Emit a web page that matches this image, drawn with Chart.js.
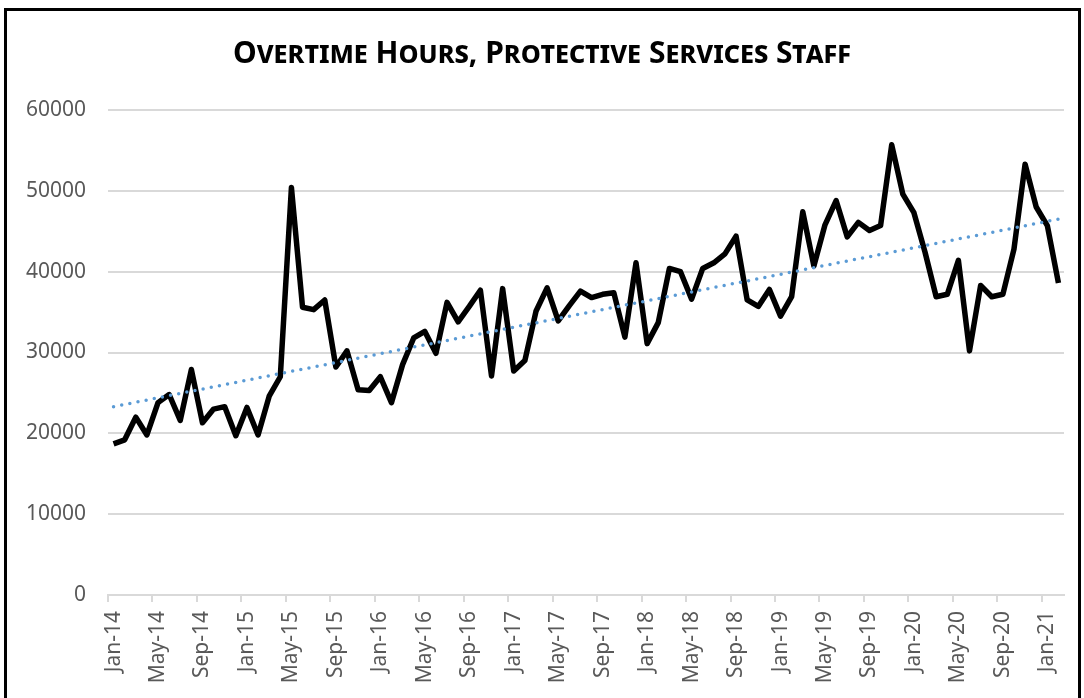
<!DOCTYPE html>
<html>
<head>
<meta charset="utf-8">
<title>Overtime Hours, Protective Services Staff</title>
<script src="https://cdn.jsdelivr.net/npm/chart.js@4.4.1/dist/chart.umd.min.js"></script>
<style>
    html, body { margin: 0; padding: 0; background: #fff; }
    #wrap { position: relative; width: 1084px; height: 698px; overflow: hidden; }
    #frame { position: absolute; left: 4px; top: 8px; width: 1071px; height: 720px; border: 3px solid #000; pointer-events: none; }
    #overtimeChart { position: absolute; left: 0; top: 0; }
</style>
</head>
<body>
<div id="wrap">
    <canvas id="overtimeChart" width="1084" height="698"></canvas>
    <div id="frame"></div>
</div>
<script>
// Month categories, Jan-14 .. Feb-21
const monthLabels = [
    'Jan-14', 'Feb-14', 'Mar-14', 'Apr-14', 'May-14', 'Jun-14', 'Jul-14', 'Aug-14', 'Sep-14', 'Oct-14', 'Nov-14', 'Dec-14',
    'Jan-15', 'Feb-15', 'Mar-15', 'Apr-15', 'May-15', 'Jun-15', 'Jul-15', 'Aug-15', 'Sep-15', 'Oct-15', 'Nov-15', 'Dec-15',
    'Jan-16', 'Feb-16', 'Mar-16', 'Apr-16', 'May-16', 'Jun-16', 'Jul-16', 'Aug-16', 'Sep-16', 'Oct-16', 'Nov-16', 'Dec-16',
    'Jan-17', 'Feb-17', 'Mar-17', 'Apr-17', 'May-17', 'Jun-17', 'Jul-17', 'Aug-17', 'Sep-17', 'Oct-17', 'Nov-17', 'Dec-17',
    'Jan-18', 'Feb-18', 'Mar-18', 'Apr-18', 'May-18', 'Jun-18', 'Jul-18', 'Aug-18', 'Sep-18', 'Oct-18', 'Nov-18', 'Dec-18',
    'Jan-19', 'Feb-19', 'Mar-19', 'Apr-19', 'May-19', 'Jun-19', 'Jul-19', 'Aug-19', 'Sep-19', 'Oct-19', 'Nov-19', 'Dec-19',
    'Jan-20', 'Feb-20', 'Mar-20', 'Apr-20', 'May-20', 'Jun-20', 'Jul-20', 'Aug-20', 'Sep-20', 'Oct-20', 'Nov-20', 'Dec-20',
    'Jan-21', 'Feb-21'
];

// Monthly overtime hours
const overtimeHours = [
    18700, 19200, 22000, 19800, 23800, 24800, 21600, 27900, 21300, 23000, 23300, 19700,
    23200, 19800, 24600, 27000, 50400, 35600, 35300, 36500, 28200, 30200, 25400, 25300,
    27000, 23800, 28500, 31800, 32600, 29900, 36200, 33800, 35700, 37700, 27100, 37900,
    27700, 29000, 35100, 38000, 33900, 35800, 37600, 36800, 37200, 37400, 31900, 41100,
    31100, 33700, 40400, 40000, 36600, 40400, 41100, 42200, 44400, 36500, 35700, 37800,
    34500, 36900, 47400, 40700, 45800, 48800, 44300, 46100, 45100, 45700, 55700, 49600,
    47300, 42400, 36900, 37200, 41400, 30200, 38300, 36900, 37200, 42800, 53300, 48000,
    45700, 38600
];

// Linear trendline end values
const trendStart = 23300;
const trendEnd = 46500;

// Y axis
const yMin = 0;
const yMax = 60000;
const yStep = 10000;

const tickFont = { family: "'Noto Sans', sans-serif", size: 21 };
const tickColor = '#595959';
const gridColor = '#d9d9d9';

new Chart(document.getElementById('overtimeChart'), {
    type: 'line',
    data: {
        labels: monthLabels,
        datasets: [
            {
                label: 'Linear trend',
                data: [
                    { x: monthLabels[0], y: trendStart },
                    { x: monthLabels[monthLabels.length - 1], y: trendEnd }
                ],
                borderColor: '#5B9BD5',
                borderWidth: 3.5,
                borderDash: [0, 8.3],
                borderCapStyle: 'round',
                pointRadius: 0,
                fill: false
            },
            {
                label: 'Overtime Hours',
                data: overtimeHours,
                borderColor: '#000000',
                borderWidth: 5.5,
                borderJoinStyle: 'round',
                pointRadius: 0,
                tension: 0,
                fill: false
            }
        ]
    },
    options: {
        responsive: false,
        animation: false,
        layout: { padding: { left: 20, right: 20, top: 0, bottom: 0 } },
        plugins: {
            legend: { display: false },
            tooltip: { enabled: false },
            title: {
                display: true,
                text: 'Overtime Hours, Protective Services Staff',
                color: '#000000',
                font: { family: "'Noto Sans', sans-serif", size: 30, weight: 'small-caps bold' },
                padding: { top: 36, bottom: 38 }
            }
        },
        scales: {
            x: {
                type: 'category',
                offset: true,
                grid: {
                    offset: true,
                    drawOnChartArea: false,
                    drawTicks: true,
                    tickLength: 7,
                    lineWidth: 2,
                    color: function(ctx) {
                        return ctx.index % 4 === 0 ? gridColor : 'rgba(0,0,0,0)';
                    }
                },
                border: { display: true, color: gridColor, width: 2 },
                ticks: {
                    autoSkip: false,
                    minRotation: 90,
                    maxRotation: 90,
                    padding: 9,
                    color: tickColor,
                    font: tickFont,
                    callback: function(value, index) {
                        return index % 4 === 0 ? this.getLabelForValue(value) : '';
                    }
                },
                afterFit: function(scale) {
                    scale.height = 103;
                    scale.paddingLeft = 0;
                    scale.paddingRight = 0;
                }
            },
            y: {
                min: yMin,
                max: yMax,
                grid: { color: gridColor, lineWidth: 2, drawTicks: false },
                border: { display: false },
                ticks: {
                    stepSize: yStep,
                    padding: 22,
                    color: tickColor,
                    font: tickFont,
                    callback: function(value) { return String(value); }
                },
                afterFit: function(scale) { scale.width = 88; }
            }
        }
    }
});
</script>
</body>
</html>
